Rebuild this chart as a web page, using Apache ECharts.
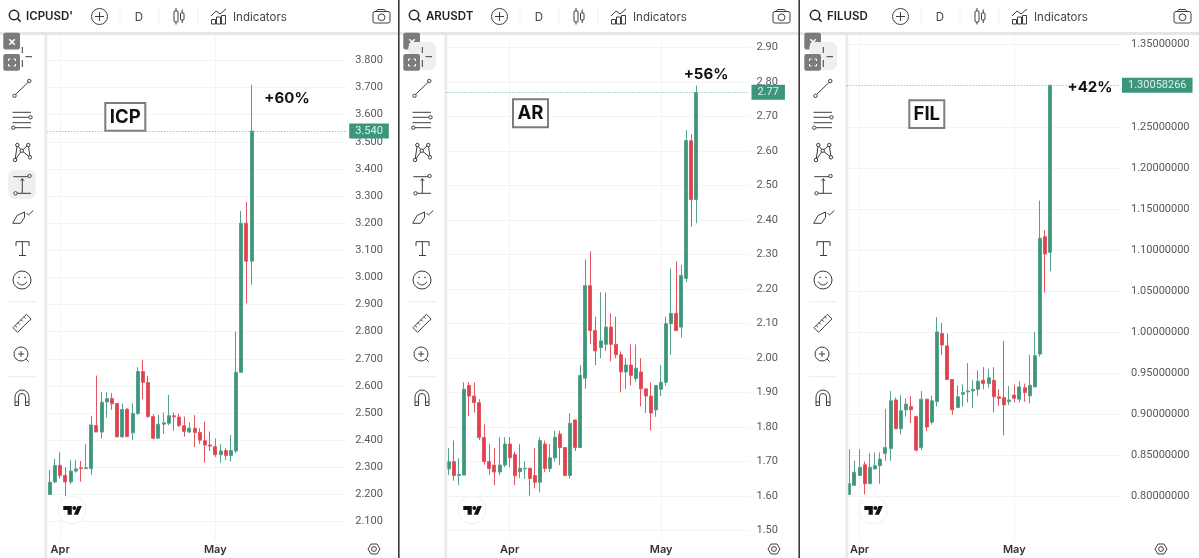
<!DOCTYPE html>
<html>
<head>
<meta charset="utf-8">
<style>html,body{margin:0;padding:0;background:#fff}#c{width:1199px;height:558px}</style>
<script src="https://cdn.jsdelivr.net/npm/echarts@6/dist/echarts.min.js"></script>
</head>
<body>
<div id="c"></div>
<script>
// Shared calendar (daily, Mar 20 .. May 26)
var dates = ["03-20","03-21","03-22","03-23","03-24","03-25","03-26","03-27","03-28","03-29","03-30","03-31",
"04-01","04-02","04-03","04-04","04-05","04-06","04-07","04-08","04-09","04-10","04-11","04-12","04-13","04-14","04-15",
"04-16","04-17","04-18","04-19","04-20","04-21","04-22","04-23","04-24","04-25","04-26","04-27","04-28","04-29","04-30",
"05-01","05-02","05-03","05-04","05-05","05-06","05-07","05-08","05-09","05-10","05-11","05-12","05-13","05-14","05-15",
"05-16","05-17","05-18","05-19","05-20","05-21","05-22","05-23","05-24","05-25","05-26"];
var monthLabels = {"04-01":"Apr","05-01":"May"};

// [open, close, low, high]
var icpCandles = [
[2.20,2.245,2.20,2.29],[2.246,2.307,2.242,2.331],[2.307,2.27,2.259,2.355],[2.27,2.246,2.194,2.30],
[2.246,2.286,2.237,2.327],[2.286,2.294,2.28,2.326],[2.298,2.295,2.247,2.323],[2.295,2.298,2.294,2.386],
[2.295,2.456,2.272,2.49],[2.454,2.43,2.43,2.638],[2.43,2.54,2.406,2.577],[2.541,2.553,2.483,2.577],
[2.553,2.534,2.512,2.573],[2.535,2.412,2.412,2.535],[2.412,2.513,2.41,2.535],[2.514,2.413,2.413,2.518],
[2.427,2.498,2.40,2.536],[2.498,2.653,2.493,2.669],[2.653,2.613,2.551,2.696],[2.613,2.487,2.483,2.637],
[2.487,2.407,2.403,2.496],[2.407,2.459,2.406,2.493],[2.459,2.464,2.423,2.502],[2.462,2.49,2.455,2.567],
[2.49,2.486,2.435,2.502],[2.485,2.454,2.448,2.497],[2.453,2.432,2.413,2.487],[2.43,2.444,2.426,2.465],
[2.444,2.428,2.374,2.492],[2.428,2.40,2.386,2.444],[2.398,2.382,2.317,2.469],[2.382,2.378,2.36,2.432],
[2.376,2.346,2.338,2.406],[2.346,2.36,2.316,2.385],[2.362,2.343,2.327,2.37],[2.343,2.362,2.321,2.419],
[2.36,2.65,2.352,2.80],[2.65,3.20,2.648,3.245],[3.20,3.06,2.905,3.278],[3.06,3.54,2.973,3.71]];

var arCandles = [
[1.678,1.699,1.66,1.738],[1.699,1.659,1.644,1.76],[1.659,1.662,1.631,1.709],[1.66,1.909,1.66,1.929],
[1.92,1.889,1.831,1.929],[1.889,1.87,1.841,1.929],[1.87,1.769,1.762,1.88],[1.769,1.699,1.69,1.807],
[1.699,1.679,1.66,1.75],[1.689,1.669,1.631,1.738],[1.669,1.689,1.66,1.77],[1.689,1.75,1.683,1.77],
[1.75,1.71,1.683,1.77],[1.72,1.658,1.631,1.728],[1.67,1.68,1.651,1.75],[1.678,1.68,1.649,1.70],
[1.68,1.65,1.60,1.68],[1.659,1.639,1.622,1.738],[1.639,1.76,1.61,1.77],[1.75,1.679,1.669,1.76],
[1.679,1.71,1.669,1.75],[1.71,1.77,1.70,1.789],[1.779,1.74,1.689,1.789],[1.74,1.659,1.657,1.74],
[1.659,1.81,1.65,1.839],[1.82,1.74,1.73,1.82],[1.74,1.949,1.74,1.979],[1.941,2.209,1.91,2.285],
[2.209,2.079,2.04,2.309],[2.079,2.02,1.979,2.119],[2.03,2.049,1.999,2.19],[2.039,2.089,2.02,2.19],
[2.089,2.039,1.99,2.129],[2.039,2.009,1.999,2.119],[2.009,1.959,1.90,2.019],[1.959,1.979,1.91,1.999],
[1.979,1.949,1.92,2.039],[1.94,1.97,1.93,2.039],[1.959,1.91,1.859,1.999],[1.91,1.889,1.84,1.91],
[1.889,1.84,1.79,1.929],[1.849,1.92,1.829,1.92],[1.909,1.929,1.889,1.979],[1.929,2.099,1.919,2.119],
[2.099,2.129,2.009,2.259],[2.129,2.079,2.079,2.28],[2.089,2.239,2.059,2.269],[2.23,2.63,2.22,2.66],
[2.629,2.459,2.38,2.648],[2.459,2.769,2.39,2.789]];

var filCandles = [
[0.802,0.815,0.801,0.857],[0.813,0.829,0.813,0.843],[0.825,0.835,0.825,0.857],[0.838,0.815,0.802,0.842],
[0.815,0.835,0.817,0.852],[0.833,0.837,0.833,0.853],[0.837,0.845,0.815,0.853],[0.852,0.859,0.843,0.906],
[0.858,0.916,0.843,0.928],[0.917,0.882,0.882,0.92],[0.882,0.904,0.875,0.923],[0.905,0.912,0.897,0.919],
[0.909,0.905,0.889,0.922],[0.897,0.856,0.854,0.897],[0.859,0.918,0.856,0.928],[0.918,0.884,0.879,0.918],
[0.89,0.916,0.887,0.922],[0.915,1.0,0.909,1.018],[0.998,0.984,0.972,1.011],[0.983,0.942,0.942,0.998],
[0.942,0.905,0.899,0.942],[0.908,0.921,0.907,0.935],[0.924,0.926,0.909,0.936],[0.927,0.928,0.914,0.962],
[0.928,0.93,0.907,0.941],[0.93,0.94,0.922,0.953],[0.941,0.937,0.93,0.957],[0.937,0.944,0.932,0.955],
[0.941,0.921,0.902,0.957],[0.921,0.919,0.91,0.93],[0.92,0.911,0.874,0.989],[0.915,0.917,0.911,0.934],
[0.923,0.919,0.914,0.936],[0.918,0.933,0.914,0.94],[0.932,0.926,0.915,0.937],[0.922,0.935,0.913,0.972],
[0.933,0.971,0.933,1.0],[0.973,1.114,0.97,1.16],[1.116,1.095,1.048,1.124],[1.097,1.30058266,1.074,1.30058266]];

var icpTicks = [2.1,2.2,2.3,2.4,2.5,2.6,2.7,2.8,2.9,3.0,3.1,3.2,3.3,3.4,3.5,3.6,3.7,3.8];
var arTicks = [1.5,1.6,1.7,1.8,1.9,2.0,2.1,2.2,2.3,2.4,2.5,2.6,2.7,2.8,2.9];
var filTicks = [0.8,0.85,0.9,0.95,1.0,1.05,1.1,1.15,1.2,1.25,1.35];

var icpPrice = 3.54, arPrice = 2.77, filPrice = 1.30058266;

var GREEN = '#3d967c', RED = '#e0424e', WICK_G = '#55a28b', WICK_R = '#e4565f', GRID = '#f2f4f6', INK = '#3c3c3c', LABEL = '#55585e';

var panels = [
 {ox:0, dx:0, sym:"ICPUSD'", note:'ICP', gain:'+60%', candles:icpCandles, ticks:icpTicks, price:icpPrice, dec:3, first:10, bands:58,
  left:47.3, width:299.9, min:2.0318, max:3.8903, margin:8,
  box:[105.3,103,40,27.7], gainAt:[287,98.7], gear:374, hi:'measure'},
 {ox:400, dx:0, sym:"ARUSDT", note:'AR', gain:'+56%', candles:arCandles, ticks:arTicks, price:arPrice, dec:2, first:0, bands:60,
  left:446.5, width:303, min:1.4719, max:2.9328, margin:7,
  box:[513,99.3,35,28], gainAt:[706,74], gear:774, hi:'cross'},
 {ox:800, dx:1, sym:"FILUSD", note:'FIL', gain:'+42%', candles:filCandles, ticks:filTicks, price:filPrice, dec:8, first:10, bands:53,
  left:846.7, width:273.3, min:0.7464, max:1.3606, margin:11,
  box:[909.3,100.3,35,27.7], gainAt:[1090,87.3], gear:1161, hi:'cross'}
];

var gfx = [];
function L(pts, c, w){ gfx.push({type:'polyline', silent:true, z:5, shape:{points:pts}, style:{fill:null, stroke:c||INK, lineWidth:w||1}}); }
function C(x,y,r,fill,stroke,w){ gfx.push({type:'circle', silent:true, z:5, shape:{cx:x,cy:y,r:r}, style:{fill:fill||'#fff', stroke:stroke===undefined?INK:stroke, lineWidth:w||1}}); }
function R(x,y,w,h,r,fill,stroke,lw){ gfx.push({type:'rect', silent:true, z:5, shape:{x:x,y:y,width:w,height:h,r:r||0}, style:{fill:fill||null, stroke:stroke||null, lineWidth:lw||1}}); }
function G(pts, fill){ gfx.push({type:'polygon', silent:true, z:5, shape:{points:pts}, style:{fill:fill}}); }
function A(x,y,r,s,e,c){ gfx.push({type:'arc', silent:true, z:5, shape:{cx:x,cy:y,r:r,startAngle:s,endAngle:e,clockwise:true}, style:{fill:null,stroke:c||INK,lineWidth:1}}); }
function T(s,x,y,size,weight,color,align){ gfx.push({type:'text', silent:true, z:6, x:x, y:y, style:{text:s, fontFamily:'Inter', fontSize:size, fontWeight:weight, fill:color, align:align||'left', verticalAlign:'middle'}}); }

function chrome(p){
  var o = p.ox + p.dx, b = p.ox;
  function X(v){ return v + o; }
  // top bar
  R(b,32,399,3,0,'#e6e6e6');
  // left strip
  R(X(44.3),35,3,523,0,'#ebebeb');
  // search
  C(X(14),15,4.7,'#fff','#222',1.5); L([[X(17.5),18.5],[X(20.6),21.6]],'#222',1.5);
  T(p.sym,X(26),16.5,11.5,600,'#222');
  // add
  C(X(99.5),16.5,8); L([[X(95),16.5],[X(104),16.5]]); L([[X(99.5),12],[X(99.5),21]]);
  [120,159,198].forEach(function(s){ L([[X(s),8],[X(s),24]],'#f1f1f1'); });
  T('D',X(139),17.5,11.5,400,'#444','center');
  // candle icon
  R(X(174),11,4,11,1,'#fff',INK); L([[X(176),8],[X(176),11]]); L([[X(176),22],[X(176),24.5]]);
  R(X(180.5),13,3.5,7,1,'#fff',INK); L([[X(182.2),9.5],[X(182.2),13]]); L([[X(182.2),20],[X(182.2),23]]);
  // indicators icon
  R(X(211.5),19.5,4,4.5,0,'#fff',INK); R(X(216.5),17,4,7,0,'#fff',INK); R(X(221.5),15.5,4,8.5,0,'#fff',INK);
  L([[X(211),16],[X(216),11],[X(220),14],[X(226),9]]);
  T('Indicators',X(233),17.5,11.5,400,'#444');
  // camera
  R(X(373),11.5,17,11.5,2,'#fff',INK); L([[X(376),11.5],[X(377.5),9.5],[X(384.5),9.5],[X(386),11.5]]); C(X(381.5),17.3,3.4);
  // close and fullscreen buttons
  R(X(3.3),32.7,16.7,16.7,2,'#7b7b7b');
  L([[X(9.3),39.3],[X(14.8),44.8]],'#fff',1.6); L([[X(14.8),39.3],[X(9.3),44.8]],'#fff',1.6);
  if(p.hi==='cross') R(X(8.3),42,27.7,28,6,'#efefef');
  if(p.hi==='measure') R(X(8.3),170,27.3,29,6,'#efefef');
  R(X(3.3),54,16.7,16.7,2,'#7b7b7b');
  [[8.5,59,1,1],[15.5,59,-1,1],[8.5,66,1,-1],[15.5,66,-1,-1]].forEach(function(q){
    L([[X(q[0]+q[2]*2),q[1]],[X(q[0]),q[1]],[X(q[0]),q[1]+q[3]*2]],'#fff',1);
  });
  // crosshair
  L([[X(22.3),47],[X(22.3),53]]); L([[X(22.3),60],[X(22.3),67]]); L([[X(25.5),56.7],[X(32),56.7]]);
  // trend line
  L([[X(15.5),94.5],[X(28),82.5]]); C(X(14.5),95.8,1.7); C(X(29.3),81,1.7);
  // fib lines
  [112.3,117.3,122.7,127.7].forEach(function(y,i){ L([[X(i===3?15:12.5),y],[X(i===1?28.8:31),y]]); });
  C(X(30.5),117.3,1.7); C(X(13.3),127.7,1.7);
  // pattern
  L([[X(15),160],[X(17.3),145],[X(21.7),150.7],[X(28.3),145],[X(30),157.3]]);
  L([[X(15),160],[X(21.7),150.7],[X(30),157.3]]);
  C(X(15),160,1.7); C(X(17.3),145,1.7); C(X(21.7),150.7,1.7); C(X(28.3),145,1.7); C(X(30),157.3,1.7);
  // measure
  L([[X(13.3),176.7],[X(28),176.7]]); C(X(29.5),176,1.7);
  L([[X(17),193.3],[X(31),193.3]]); C(X(15.5),193.3,1.7);
  L([[X(22.3),179],[X(22.3),193]]); L([[X(20.6),180.8],[X(22.3),178.6],[X(24),180.8]]);
  // brush
  L([[X(12.7),223.3],[X(17),215.5],[X(24.5),212],[X(24.5),217.5],[X(20.5),223.3],[X(12.7),223.3]]);
  L([[X(26.5),213],[X(28.5),215],[X(33.3),210.5]]);
  // text tool
  L([[X(16),246],[X(16),241.7],[X(29),241.7],[X(29),246]]); L([[X(22.4),241.7],[X(22.4),255.5]]); L([[X(19),255.5],[X(26),255.5]]);
  // smile
  C(X(22),280,9); C(X(19),277.5,0.8,INK,null); C(X(25),277.5,0.8,INK,null); A(X(22),280,5,0.35,2.8);
  L([[X(8),301.7],[X(36),301.7]],'#ececec');
  // ruler
  L([[X(31),318.9],[X(26.4),314.3],[X(13),327.7],[X(17.6),332.3],[X(31),318.9]]);
  [[24,316.7],[21,319.7],[18,322.7],[15.2,325.5]].forEach(function(q){ L([[X(q[0]),q[1]],[X(q[0]+1.7),q[1]+1.7]]); });
  // zoom
  C(X(21),354,7); L([[X(18),354],[X(24),354]]); L([[X(21),351],[X(21),357]]); L([[X(26),359],[X(28.7),361.7]]);
  L([[X(8),376.7],[X(36),376.7]],'#ececec');
  // magnet
  A(X(22),397,7,Math.PI,0); A(X(22),397,3.5,Math.PI,0);
  L([[X(15),397],[X(15),405.5],[X(18.5),405.5],[X(18.5),397]]); L([[X(25.5),397],[X(25.5),405.5],[X(29),405.5],[X(29),397]]);
  L([[X(15),402],[X(18.5),402]]); L([[X(25.5),402],[X(29),402]]);
  // TV logo
  C(X(72),510,14,'#fff','#f0f0f0');
  G([[X(63.3),506],[X(71.8),506],[X(71.8),514.8],[X(67.6),514.8],[X(67.6),510],[X(63.3),510]],'#111');
  C(X(74.3),508,2,'#111',null);
  G([[X(73.8),514.8],[X(78),514.8],[X(81.8),506],[X(77.6),506]],'#111');
  // gear
  var g = p.gear;
  L([[g-6,549],[g-3,544],[g+3,544],[g+6,549],[g+3,554],[g-3,554],[g-6,549]]); C(g,549,2.4);
  // annotation box and gain text
  R(p.box[0],p.box[1],p.box[2],p.box[3],0,'#fff','#7d7d7d',2);
  T(p.note,p.box[0]+p.box[2]/2,p.box[1]+p.box[3]/2+0.5,18.5,700,'#111','center');
  T(p.gain,p.gainAt[0],p.gainAt[1],15,700,'#111','center');
}
panels.forEach(chrome);
// dark dividers between the panels
R(398,0,1.6,558,0,'#3a3a3a'); R(798.4,0,1.6,558,0,'#3a3a3a');

var grids=[], xAxes=[], yAxes=[], series=[];
panels.forEach(function(p,i){
  var cats = dates.slice(p.first, p.first + p.bands);
  grids.push({left:p.left, width:p.width, top:36, height:504});
  xAxes.push({type:'category', gridIndex:i, data:cats, boundaryGap:true,
    axisLine:{show:false}, axisTick:{show:false},
    splitLine:{show:true, alignWithLabel:true, interval:function(idx,v){return !!monthLabels[v];}, lineStyle:{color:GRID,width:1}},
    axisLabel:{show:true, margin:4, interval:function(idx,v){return !!monthLabels[v];},
      formatter:function(v){return monthLabels[v]||'';}, fontFamily:'Inter', fontSize:11, fontWeight:600, color:'#333'}});
  yAxes.push({type:'value', gridIndex:i, position:'right', scale:true, min:p.min, max:p.max,
    axisLine:{show:false}, axisTick:{show:false, customValues:p.ticks},
    splitLine:{show:true, lineStyle:{color:GRID,width:1}},
    axisLabel:{show:true, customValues:p.ticks, margin:p.margin, showMinLabel:true, showMaxLabel:true, padding:[2,0,0,0],
      formatter:function(v){return v.toFixed(p.dec);}, fontFamily:'Roboto', fontSize:11, color:LABEL}});
  series.push({type:'candlestick', xAxisIndex:i, yAxisIndex:i, data:p.candles, barWidth:3.5, clip:false,
    itemStyle:{color:GREEN, color0:RED, borderColor:WICK_G, borderColor0:WICK_R, borderWidth:1},
    silent:true, animation:false,
    markLine:{silent:true, symbol:'none', animation:false, precision:8,
      data:[{yAxis:p.price}],
      lineStyle:{type:[1,2], color:'#6fb5a0', width:1},
      label:{show:true, position:'end', distance:2, formatter:function(){return p.price.toFixed(p.dec);},
        backgroundColor:GREEN, color:'#dcefe8', padding:[2,6,2,6], fontFamily:'Roboto', fontSize:11}}});
});

var chart = echarts.init(document.getElementById('c'), null, {renderer:'canvas'});
chart.setOption({animation:false, backgroundColor:'#fff', textStyle:{fontFamily:'Inter'},
  grid:grids, xAxis:xAxes, yAxis:yAxes, series:series, graphic:gfx});
</script>
</body>
</html>
